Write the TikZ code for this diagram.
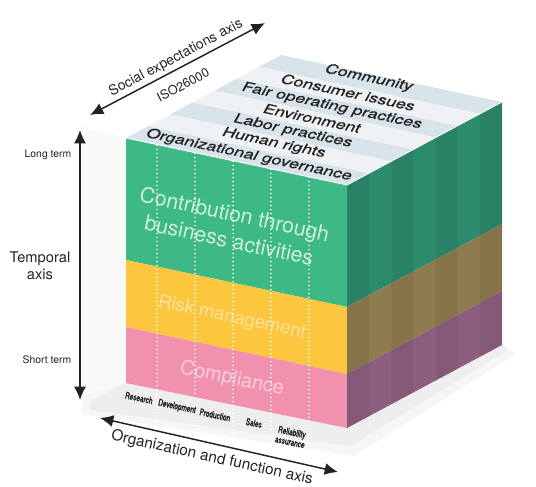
\documentclass[tikz,border=0pt]{standalone}
\usepackage{fontspec}
\setmainfont{TeX Gyre Heros}
\newfontfamily\condfont[FakeStretch=0.7,FakeBold=1.6]{TeX Gyre Heros}
\newfontfamily\themefont[FakeSlant=0.3,FakeStretch=1.32,FakeBold=0.9]{TeX Gyre Heros}
\usepackage{tikz}
\usetikzlibrary{arrows.meta}

\definecolor{frontgreen}{HTML}{3CB984}
\definecolor{frontyellow}{HTML}{FCC73E}
\definecolor{frontpink}{HTML}{F291AD}
\definecolor{sidegreen}{HTML}{2D8B6D}
\definecolor{sidebrown}{HTML}{8E7B4F}
\definecolor{sidemauve}{HTML}{8C5F7E}
\definecolor{topblue}{HTML}{D8E3EA}
\definecolor{topwhite}{HTML}{EFF2F5}
\definecolor{ink}{HTML}{222222}

\tikzset{
  axisarrow/.style={draw=ink, line width=1.1pt, {Latex[length=10pt,width=9pt]}-{Latex[length=10pt,width=9pt]}},
  toplabel/.style={text=ink, font=\themefont\fontsize{10}{12}\selectfont, rotate=-12, inner sep=0pt},
  facelabel/.style={text=white, text opacity=0.65, rotate=-12, align=center, inner sep=0pt},
  colname/.style={text=ink, font=\condfont\fontsize{7}{7.5}\selectfont, rotate=-12, align=center, inner sep=0pt},
  axislabel/.style={text=ink, align=center, inner sep=0pt},
  column/.style={draw=white, line width=1pt, dotted}
}

\begin{document}
\begin{tikzpicture}[x=0.75pt,y=-0.75pt]
	\useasboundingbox (0,0) rectangle (536,486);
%	glass base and shadow
	\fill[gray!4] (82,126) -- (126,138) -- (126,383) -- (82,410) -- cycle;
	\fill[gray!7] (82,396) -- (126,383) -- (347,428) -- (503,345) -- (516,354) -- (354,456) -- (82,414) -- cycle;
	\fill[gray!13] (90,402) -- (126,383) -- (347,428) -- (503,345) -- (508,350) -- (350,446) -- (90,410) -- cycle;
	% front face
	\fill[frontgreen] (126,138) -- (347,185) -- (347,307) -- (126,260) -- cycle;
	\fill[frontyellow] (126,260) -- (347,307) -- (347,374) -- (126,327) -- cycle;
	\fill[frontpink] (126,327) -- (347,374) -- (347,428) -- (126,383) -- cycle;
	% side face
	\fill[sidegreen] (347,185) -- (502,102) -- (502,224) -- (347,307) -- cycle;
	\fill[sidebrown] (347,307) -- (502,224) -- (502,291) -- (347,374) -- cycle;
	\fill[sidemauve] (347,374) -- (502,291) -- (502,345) -- (347,428) -- cycle;
	\foreach \k in {0,2,4,6}{
		\fill[black, opacity=0.06, shift={(22.14*\k,-11.86*\k)}] (347,185) -- (369.14,173.14) -- (369.14,416.14) -- (347,428) -- cycle;
	}
	% top face
	\foreach \k in {0,2,4,6}{
		\fill[topblue, shift={(22.14*\k,-11.86*\k)}] (126,138) -- (347,185) -- (369.14,173.14) -- (148.14,126.14) -- cycle;
	}
	\foreach \k in {1,3,5}{
		\fill[topwhite, shift={(22.14*\k,-11.86*\k)}] (126,138) -- (347,185) -- (369.14,173.14) -- (148.14,126.14) -- cycle;
	}
	\draw[white, line width=0.6pt] (126,138) -- (347,185) -- (502,102);
	\foreach \x in {157,195,233,271,309}{
		\draw[column] (\x,{138+(\x-126)*0.2127}) -- (\x,{421+(\x-126)*0.2127});
	}
	% labels on the top face
	\foreach \t/\px/\py [count=\k] in {Community/368/78, Consumer issues/347/92, Fair operating practices/331/106, Environment/311/118, Labor practices/292/131, Human rights/273/143, Organizational governance/248/155}{
		\node (theme\k) at (\px,\py)[toplabel]{\t};
	}
	% labels on the front face
	\node (contribution) at (232,227)[facelabel, font=\fontsize{16}{20}\selectfont, text opacity=0.75]{Contribution through\\business activities};
	\node (risk) at (232,318)[facelabel, font=\fontsize{14}{16}\selectfont, text opacity=0.5]{Risk management};
	\node (compliance) at (232,379)[facelabel, font=\fontsize{15}{17}\selectfont, text opacity=0.55]{Compliance};
	% functions
	\foreach \t/\px/\py [count=\k] in {Research/139/398, Development/177/407, Production/215/415, Sales/254/423, Reliability\\assurance/291/437}{
		\node (function\k) at (\px,\py)[colname]{\t};
	}
	% axes
	\coordinate (longend) at (80,130);
	\coordinate (shortend) at (80,400);
	\draw[axisarrow] (longend) -- (shortend);
	\node (longterm) at (48,155)[axislabel, font=\fontsize{7.8}{9}\selectfont]{Long term};
	\node (shortterm) at (47,360)[axislabel, font=\fontsize{7.8}{9}\selectfont]{Short term};
	\node (temporal) at (40,266)[axislabel, font=\fontsize{11}{13}\selectfont]{Temporal\\axis};
	\coordinate (socstart) at (90,115);
	\coordinate (socend) at (265,23);
	\draw[axisarrow] (socstart) -- (socend);
	\node (social) at (176,58)[axislabel, rotate=28, font=\fontsize{10.5}{12}\selectfont]{Social expectations axis};
	\node (iso) at (183,85)[axislabel, rotate=28, font=\fontsize{9.5}{11}\selectfont]{ISO26000};
	\coordinate (orgstart) at (100,418);
	\coordinate (orgend) at (338,472);
	\draw[axisarrow] (orgstart) -- (orgend);
	\node (organization) at (212,458)[axislabel, rotate=-12.5, font=\fontsize{11.5}{13}\selectfont]{Organization and function axis};
\end{tikzpicture}
\end{document}
